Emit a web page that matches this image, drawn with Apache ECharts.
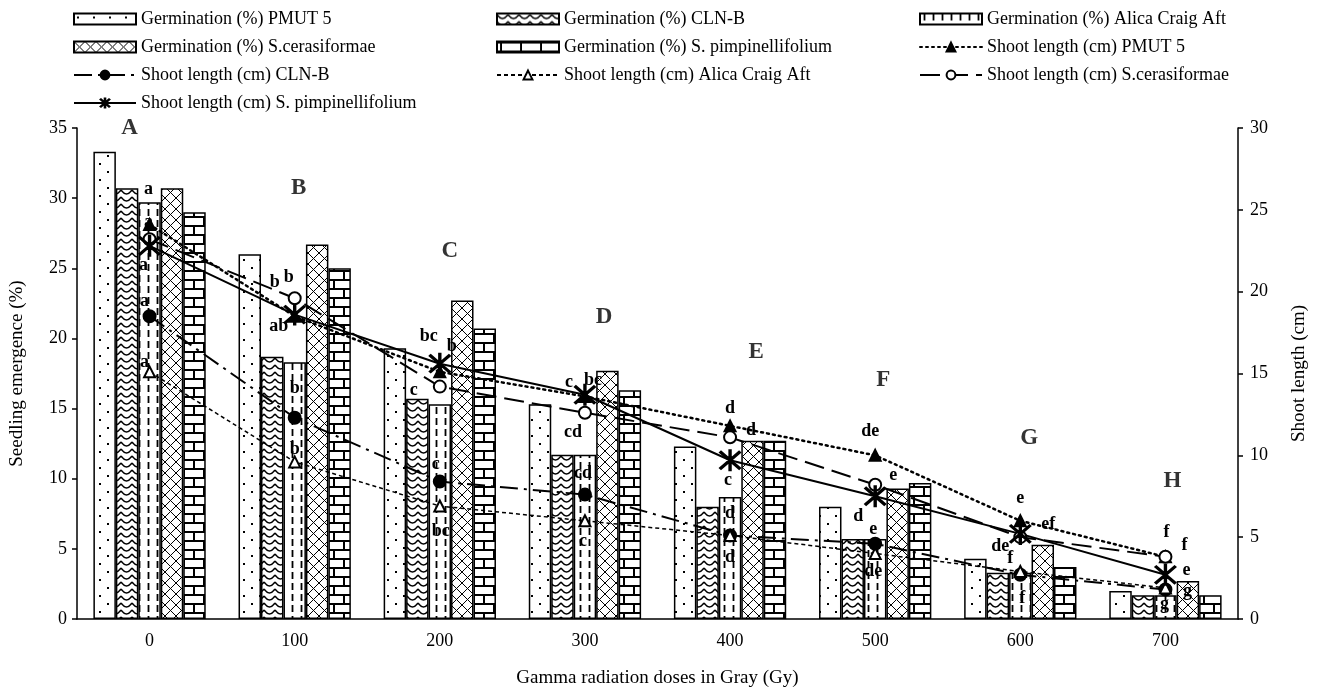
<!DOCTYPE html>
<html>
	<head>
		<meta charset="utf-8" />
		<script type="text/javascript" src="https://cdn.jsdelivr.net/npm/echarts@6/dist/echarts.min.js"></script>
		<title></title>
	</head>
	<body style="margin:0">
		<div id="chartmain" style="width:1320px; height: 693px;"></div>
		<script type="text/javascript">
// doses (Gy)
var doses = ['0', '100', '200', '300', '400', '500', '600', '700'];

// germination / seedling emergence (%)
var germPMUT5 = [33.3, 26.0, 19.3, 15.3, 12.3, 8.0, 4.3, 2.0];
var germCLNB = [30.7, 18.7, 15.7, 11.7, 8.0, 5.7, 3.3, 1.7];
var germAlica = [29.7, 18.3, 15.3, 11.7, 8.7, 5.7, 3.3, 1.7];
var germScer = [30.7, 26.7, 22.7, 17.7, 12.7, 9.3, 5.3, 2.7];
var germSpimp = [29.0, 25.0, 20.7, 16.3, 12.7, 9.7, 3.7, 1.7];

// shoot length (cm)
var shootPMUT5 = [24.1, 18.5, 15.1, 13.6, 11.8, 10.0, 6.0, 3.8];
var shootCLNB = [18.5, 12.3, 8.4, 7.6, 5.1, 4.6, 2.7, 1.8];
var shootAlica = [15.1, 9.6, 6.9, 6.0, 5.1, 4.0, 2.9, 1.9];
var shootScer = [23.2, 19.6, 14.2, 12.6, 11.1, 8.2, 5.0, 3.8];
var shootSpimp = [22.8, 18.6, 15.6, 13.7, 9.7, 7.5, 5.2, 2.7];

// significance letters
var letPMUT5 = ['a', 'ab', 'b', 'bc', 'd', 'de', 'e', 'f'];
var letCLNB = ['a', 'b', 'c', 'cd', 'd', 'e', 'f', 'g'];
var letAlica = ['a', 'b', 'bc', 'c', 'd', 'de', 'f', 'g'];
var letScer = ['a', 'b', 'c', 'cd', 'd', 'e', 'ef', 'f'];
var letSpimp = ['a', 'b', 'bc', 'c', 'c', 'd', 'de', 'e'];

// group letters and their height on the left axis
var groupLetters = ['A', 'B', 'C', 'D', 'E', 'F', 'G', 'H'];
var groupLetterY = [35.0, 30.7, 26.2, 21.5, 19.0, 17.0, 12.9, 9.8];

// label offsets (layout only)
var offPMUT5 = [[-1, -35], [-16, 10], [12, -26], [8, -16], [0, -18], [-5, -24], [0, -22], [1, -24]];
var offCLNB = [[-5, -15], [0, -29], [-4, -17], [-2, -21], [0, -22], [-2, -14], [-10, -16], [-1, 15]];
var offAlica = [[-5, -10], [0, -13], [1, 25], [-2, 21], [0, 22], [-2, 18], [2, 27], [22, 3]];
var offScer = [[-1, -17], [-6, -21], [-26, 4], [-12, 20], [21, -7], [18, -9], [28, -13], [19, -11]];
var offSpimp = [[-6, 20], [-20, -32], [-11, -27], [-16, -12], [-2, 20], [-17, 20], [-20, 12], [21, -4]];
var offGroup = [-20, 4, 10, 19, 26, 8, 9, 7];

var FONT = 'Liberation Serif';

function pattern(w, h, draw) {
  var c = document.createElement('canvas');
  c.width = w; c.height = h;
  var g = c.getContext('2d');
  g.fillStyle = '#fff';
  g.fillRect(0, 0, w, h);
  g.fillStyle = '#000';
  g.strokeStyle = '#000';
  draw(g);
  return { image: c, repeat: 'repeat' };
}

var patDots = pattern(16, 16, function (g) {
  g.fillRect(3, 3, 2, 2);
  g.fillRect(11, 11, 2, 2);
});
var patWave = pattern(11, 7, function (g) {
  g.lineWidth = 1.5;
  g.beginPath();
  g.moveTo(0, 1);
  g.quadraticCurveTo(5.5, 9, 11, 1);
  g.stroke();
});
var patDash = pattern(9, 11, function (g) {
  g.lineWidth = 1.8;
  g.beginPath();
  g.moveTo(4.5, 0);
  g.lineTo(4.5, 7);
  g.stroke();
});
var patCross = pattern(11, 11, function (g) {
  g.lineWidth = 1;
  g.beginPath();
  g.moveTo(0, 0); g.lineTo(11, 11);
  g.moveTo(11, 0); g.lineTo(0, 11);
  g.stroke();
});
var patBrick = pattern(20, 18, function (g) {
  g.lineWidth = 2;
  g.beginPath();
  g.moveTo(0, 1); g.lineTo(20, 1);
  g.moveTo(0, 10); g.lineTo(20, 10);
  g.moveTo(4, 1); g.lineTo(4, 10);
  g.moveTo(14, 10); g.lineTo(14, 18);
  g.stroke();
});

var asterisk = 'path://M9.4,0L10.6,0L10.6,20L9.4,20Z' +
  'M1.4,2.2L2.2,1.4L18.6,17.8L17.8,18.6Z' +
  'M17.8,1.4L18.6,2.2L2.2,18.6L1.4,17.8Z';

var barNames = ['Germination (%) PMUT 5', 'Germination (%) CLN-B', 'Germination (%) Alica Craig Aft',
  'Germination (%) S.cerasiformae', 'Germination (%) S. pimpinellifolium'];
var lineNames = ['Shoot length (cm) PMUT 5', 'Shoot length (cm) CLN-B', 'Shoot length (cm) Alica Craig Aft',
  'Shoot length (cm) S.cerasiformae', 'Shoot length (cm) S. pimpinellifolium'];

function barSeries(name, data, pat) {
  return {
    name: name,
    type: 'bar',
    data: data,
    barGap: '0%',
    barCategoryGap: '22.6%',
    itemStyle: { color: pat, borderColor: '#000', borderWidth: 1.5 }
  };
}

function pointLabels(values, letters, offsets) {
  return values.map(function (v, i) {
    return {
      value: v,
      label: { show: true, formatter: letters[i], offset: offsets[i] }
    };
  });
}

function lineSeries(name, values, letters, offsets, symbol, size, lineStyle) {
  return {
    name: name,
    type: 'line',
    yAxisIndex: 1,
    data: pointLabels(values, letters, offsets),
    symbol: symbol,
    symbolSize: size,
    showAllSymbol: true,
    z: 5,
    itemStyle: { color: '#000', borderColor: '#000', borderWidth: 2 },
    lineStyle: lineStyle,
    label: {
      position: 'inside',
      color: '#000',
      fontFamily: FONT,
      fontWeight: 'bold',
      fontSize: 18
    }
  };
}

var legendData = barNames.map(function (n) { return { name: n, icon: 'rect' }; })
  .concat(lineNames.map(function (n) { return { name: n }; }));

var option = {
  animation: false,
  textStyle: { fontFamily: FONT, color: '#000' },
  legend: {
    left: 68,
    top: 5,
    width: 1260,
    itemWidth: 62,
    itemHeight: 11,
    itemGap: 10,
    textStyle: { fontFamily: FONT, fontSize: 18, color: '#000', width: 345, lineHeight: 18 },
    data: legendData
  },
  grid: { left: 75, right: 82, top: 128, bottom: 72 },
  xAxis: {
    type: 'category',
    data: doses,
    name: 'Gamma radiation doses in Gray (Gy)',
    nameLocation: 'middle',
    nameGap: 50,
    nameTextStyle: { fontFamily: FONT, fontSize: 19, color: '#000' },
    axisLine: { lineStyle: { color: '#000', width: 1.5 } },
    axisTick: { show: false },
    axisLabel: { fontFamily: FONT, fontSize: 18, color: '#000', margin: 13 }
  },
  yAxis: [
    {
      type: 'value',
      min: 0, max: 35, interval: 5,
      name: 'Seedling emergence (%)',
      nameLocation: 'middle',
      nameGap: 50,
      nameTextStyle: { fontFamily: FONT, fontSize: 19, color: '#000' },
      axisLine: { show: true, lineStyle: { color: '#000', width: 1.5 } },
      axisTick: { show: true, length: 5, lineStyle: { color: '#000', width: 1.5 } },
      axisLabel: { fontFamily: FONT, fontSize: 18, color: '#000', margin: 10 },
      splitLine: { show: false }
    },
    {
      type: 'value',
      min: 0, max: 30, interval: 5,
      name: 'Shoot length (cm)',
      nameLocation: 'middle',
      nameGap: 52,
      nameTextStyle: { fontFamily: FONT, fontSize: 19, color: '#000' },
      axisLine: { show: true, lineStyle: { color: '#000', width: 1.5 } },
      axisTick: { show: true, length: 5, lineStyle: { color: '#000', width: 1.5 } },
      axisLabel: { fontFamily: FONT, fontSize: 18, color: '#000', margin: 12 },
      splitLine: { show: false }
    }
  ],
  series: [
    barSeries(barNames[0], germPMUT5, patDots),
    barSeries(barNames[1], germCLNB, patWave),
    barSeries(barNames[2], germAlica, patDash),
    barSeries(barNames[3], germScer, patCross),
    barSeries(barNames[4], germSpimp, patBrick),
    lineSeries(lineNames[0], shootPMUT5, letPMUT5, offPMUT5, 'triangle', 11,
      { color: '#000', width: 2.5, type: [2, 4], cap: 'round' }),
    lineSeries(lineNames[1], shootCLNB, letCLNB, offCLNB, 'circle', 12,
      { color: '#000', width: 2, type: [18, 6, 3, 6] }),
    lineSeries(lineNames[2], shootAlica, letAlica, offAlica, 'emptyTriangle', 11,
      { color: '#000', width: 1.5, type: [4, 3] }),
    lineSeries(lineNames[3], shootScer, letScer, offScer, 'emptyCircle', 12,
      { color: '#000', width: 2, type: [20, 8] }),
    lineSeries(lineNames[4], shootSpimp, letSpimp, offSpimp, asterisk, 20,
      { color: '#000', width: 2, type: 'solid' }),
    {
      name: 'group letters',
      type: 'scatter',
      yAxisIndex: 0,
      symbolSize: 0,
      z: 6,
      data: groupLetterY.map(function (v, i) {
        return { value: v, label: { formatter: groupLetters[i], offset: [offGroup[i], 0] } };
      }),
      label: {
        show: true,
        position: 'inside',
        color: '#000',
        fontFamily: FONT,
        fontWeight: 'bold',
        fontSize: 23
      }
    }
  ]
};

var myChart = echarts.init(document.getElementById('chartmain'));
myChart.setOption(option);

window.addEventListener('resize', function () {
  myChart.resize();
});
		</script>
	</body>
</html>
